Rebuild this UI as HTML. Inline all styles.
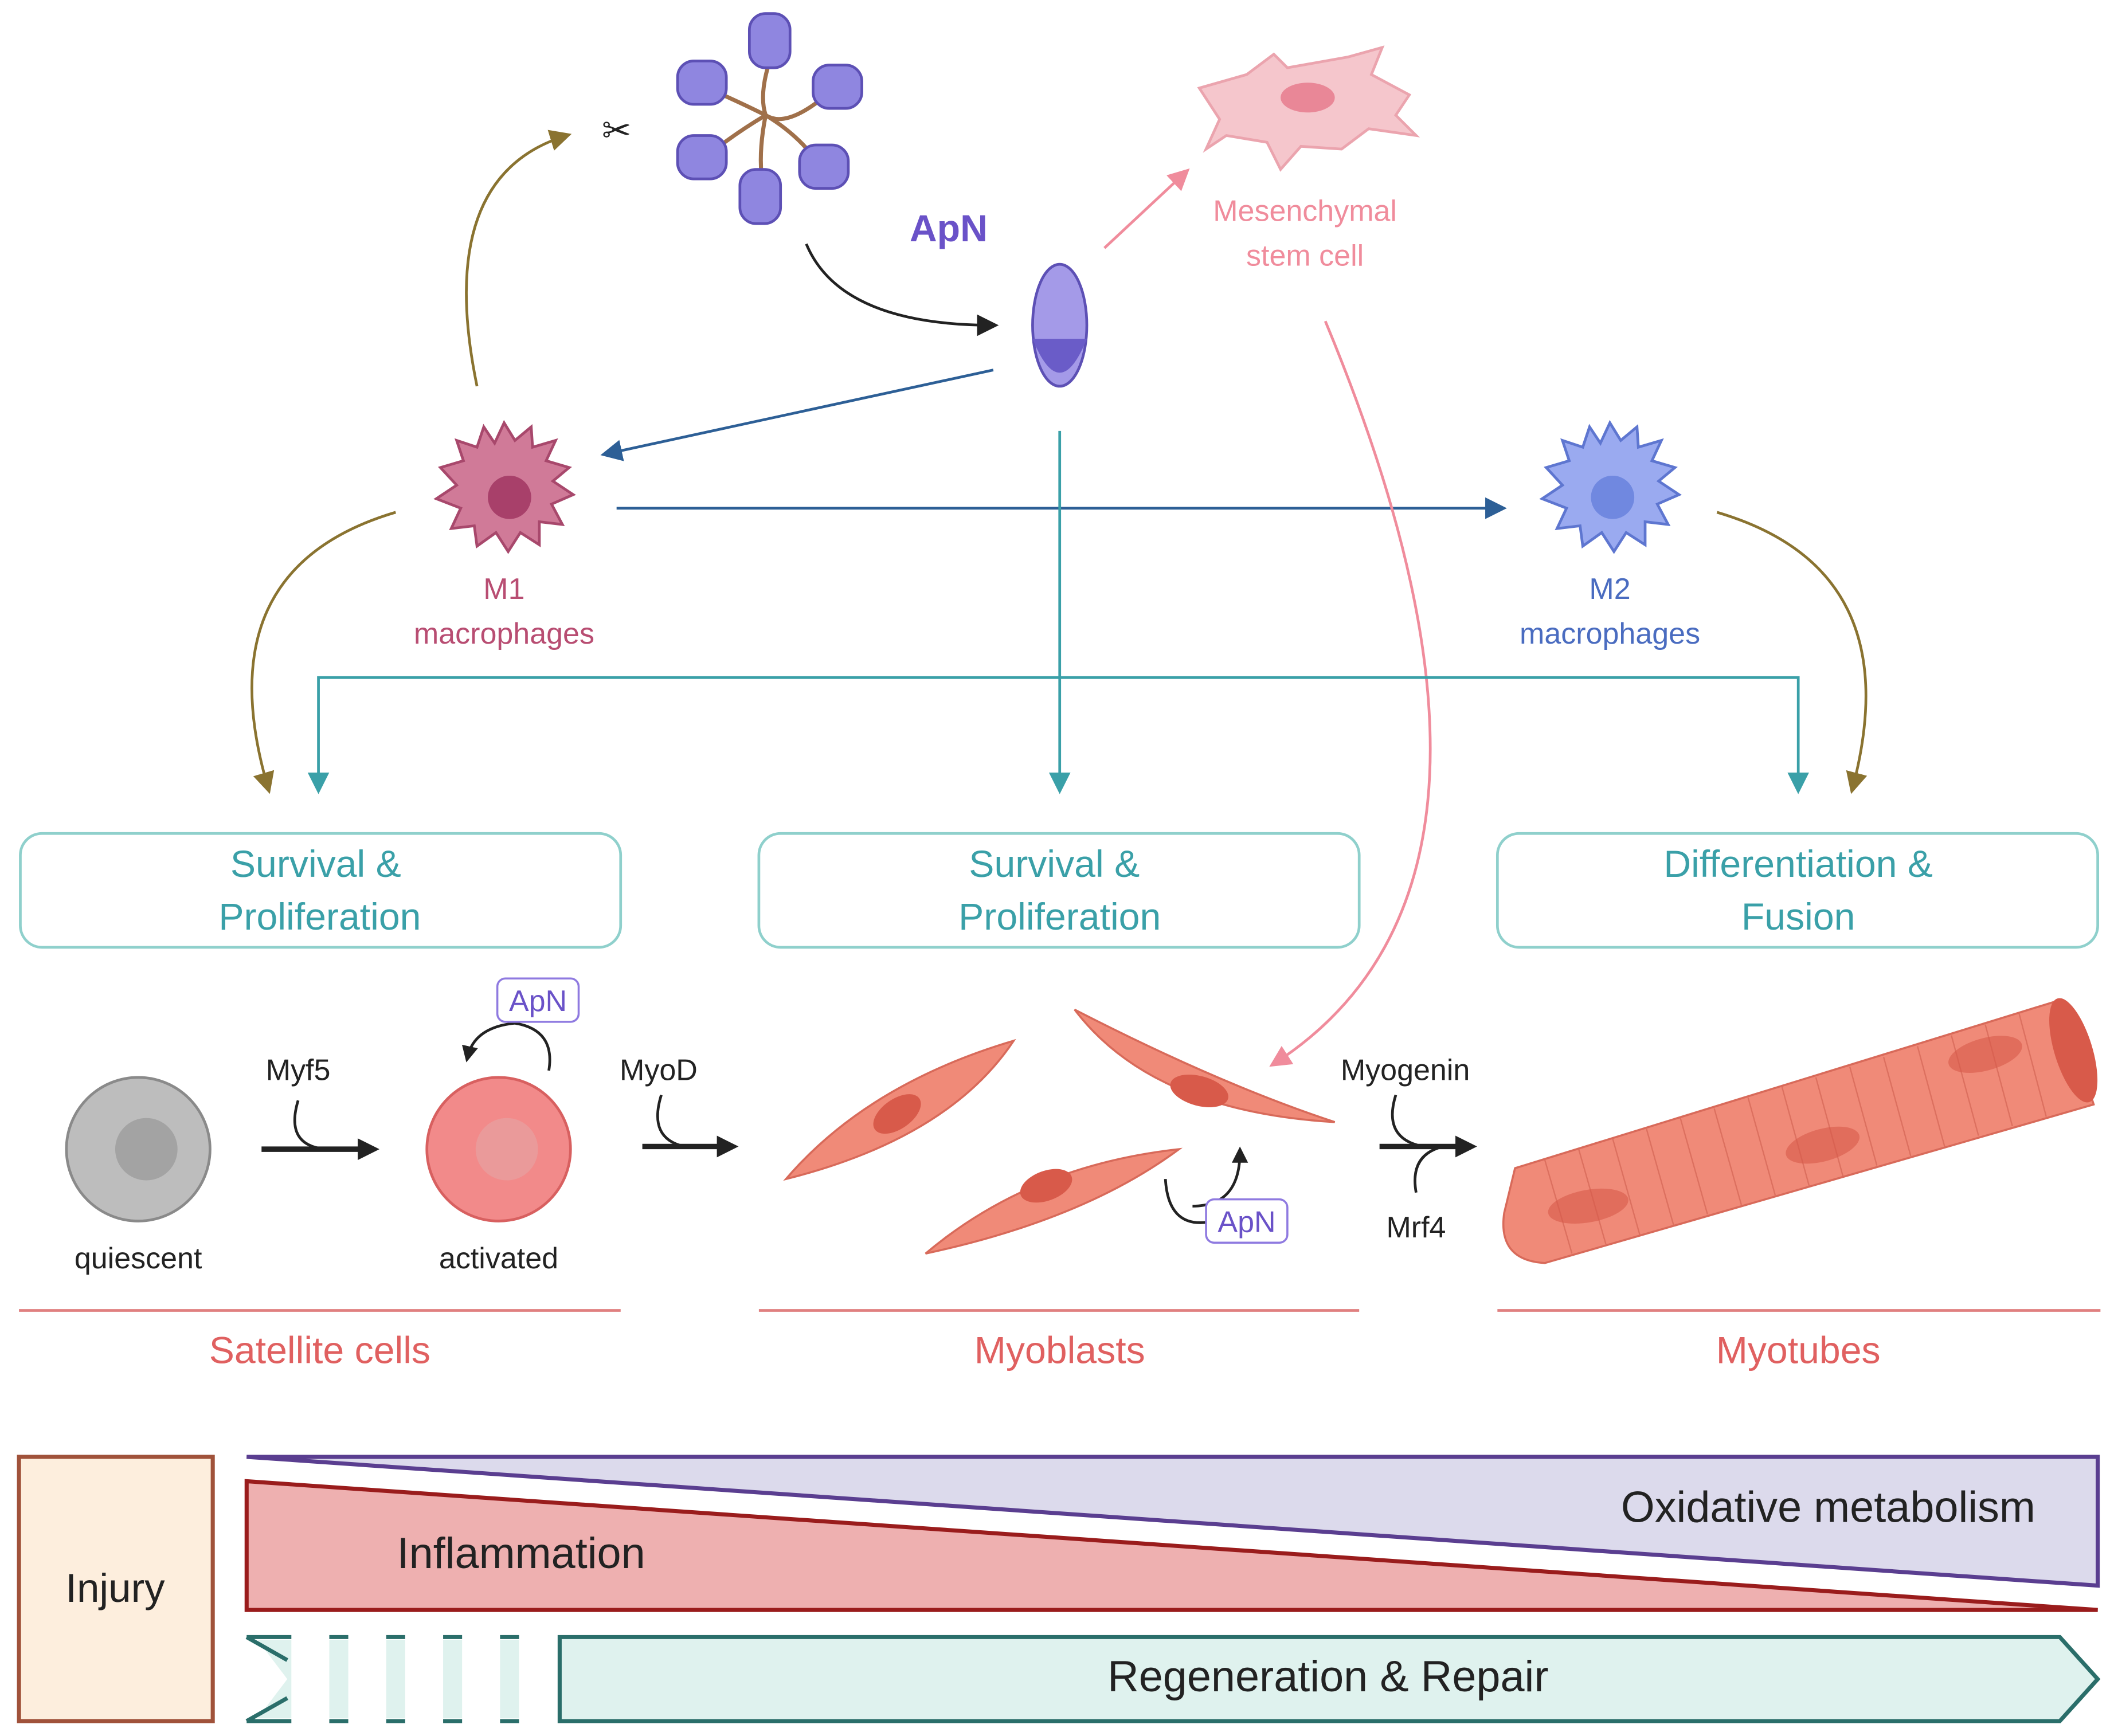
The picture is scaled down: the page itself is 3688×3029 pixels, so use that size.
<!DOCTYPE html>
<html><head><meta charset="utf-8"><style>html,body{margin:0;padding:0;background:#fff}svg{display:block}</style></head><body>
<svg width="3688" height="3029" viewBox="0 0 1560 1281" preserveAspectRatio="none" xmlns="http://www.w3.org/2000/svg" font-family="Liberation Sans, sans-serif">
<defs>
<marker id="ab" markerWidth="8" markerHeight="8" refX="6" refY="4" orient="auto" markerUnits="userSpaceOnUse" viewBox="0 0 8 8"><path d="M0,0 L8,4 L0,8 Z" fill="#222"/></marker>
<marker id="abk" markerWidth="16" markerHeight="16" refX="12" refY="8" orient="auto" markerUnits="userSpaceOnUse"><path d="M0,0 L16,8 L0,16 Z" fill="#222"/></marker>
<marker id="ao" markerWidth="16" markerHeight="16" refX="12" refY="8" orient="auto" markerUnits="userSpaceOnUse"><path d="M0,0 L16,8 L0,16 Z" fill="#8a7330"/></marker>
<marker id="abl" markerWidth="16" markerHeight="16" refX="12" refY="8" orient="auto" markerUnits="userSpaceOnUse"><path d="M0,0 L16,8 L0,16 Z" fill="#2d5f96"/></marker>
<marker id="at" markerWidth="16" markerHeight="16" refX="12" refY="8" orient="auto" markerUnits="userSpaceOnUse"><path d="M0,0 L16,8 L0,16 Z" fill="#3aa0a8"/></marker>
<marker id="ap" markerWidth="16" markerHeight="16" refX="12" refY="8" orient="auto" markerUnits="userSpaceOnUse"><path d="M0,0 L16,8 L0,16 Z" fill="#f08c9c"/></marker>
<marker id="as" markerWidth="12" markerHeight="12" refX="8" refY="6" orient="auto" markerUnits="userSpaceOnUse"><path d="M0,0 L12,6 L0,12 Z" fill="#222"/></marker>
</defs>

<!-- ApN hexamer -->
<g stroke="#a0704a" stroke-width="3" fill="none">
<path d="M568,45 Q560,70 565,85 Q580,95 610,70"/><path d="M565,85 Q590,100 605,122"/><path d="M565,85 Q560,110 562,130"/><path d="M565,85 Q540,100 522,115"/><path d="M565,85 Q545,75 522,65"/>
</g>
<g fill="#8f86e0" stroke="#5d50b5" stroke-width="2">
<rect x="553" y="10" width="30" height="40" rx="12"/>
<rect x="600" y="48" width="36" height="32" rx="12"/>
<rect x="590" y="107" width="36" height="32" rx="12"/>
<rect x="546" y="125" width="30" height="40" rx="12"/>
<rect x="500" y="100" width="36" height="32" rx="12"/>
<rect x="500" y="45" width="36" height="32" rx="12"/>
</g>
<text x="455" y="105" font-size="26" text-anchor="middle" fill="#222">✂</text>
<text x="700" y="178" font-size="28" font-weight="bold" fill="#6a52c8" text-anchor="middle">ApN</text>
<ellipse cx="782" cy="240" rx="20" ry="45" fill="#a49ae8" stroke="#5d50b5" stroke-width="2"/>
<path d="M762,250 Q782,300 802,250 Z" fill="#6a5cc8"/>

<!-- MSC -->
<path d="M885,65 L920,55 L940,40 L950,50 L995,42 L1020,35 L1012,55 L1040,70 L1030,85 L1045,100 L1010,95 L990,110 L960,108 L945,125 L935,105 L905,100 L890,110 L900,88 Z" fill="#f5c6cc" stroke="#eba4ae" stroke-width="2"/>
<ellipse cx="965" cy="72" rx="20" ry="11" fill="#e98797"/>
<text x="963" y="163" font-size="22" fill="#f08c9c" text-anchor="middle">Mesenchymal</text>
<text x="963" y="196" font-size="22" fill="#f08c9c" text-anchor="middle">stem cell</text>

<!-- arrows top -->
<path d="M595,180 Q620,240 733,240" stroke="#222" stroke-width="2" fill="none" marker-end="url(#abk)"/>
<path d="M815,183 L875,127" stroke="#f08c9c" stroke-width="2" fill="none" marker-end="url(#ap)"/>
<path d="M352,285 Q320,130 418,100" stroke="#8a7330" stroke-width="2" fill="none" marker-end="url(#ao)"/>
<path d="M733,273 L447,335" stroke="#2d5f96" stroke-width="2" fill="none" marker-end="url(#abl)"/>
<path d="M455,375 L1108,375" stroke="#2d5f96" stroke-width="2" fill="none" marker-end="url(#abl)"/>
<path d="M978,237 Q1150,650 940,785" stroke="#f08c9c" stroke-width="2" fill="none" marker-end="url(#ap)"/>
<path d="M292,378 Q150,420 198,582" stroke="#8a7330" stroke-width="2" fill="none" marker-end="url(#ao)"/>
<path d="M1267,378 Q1410,420 1367,582" stroke="#8a7330" stroke-width="2" fill="none" marker-end="url(#ao)"/>
<path d="M782,318 L782,582" stroke="#3aa0a8" stroke-width="2" fill="none" marker-end="url(#at)"/>
<path d="M235,582 L235,500 L1327,500 L1327,582" stroke="#3aa0a8" stroke-width="2" fill="none"/>
<path d="M235,570 L235,582" stroke="#3aa0a8" stroke-width="2" marker-end="url(#at)"/>
<path d="M1327,570 L1327,582" stroke="#3aa0a8" stroke-width="2" marker-end="url(#at)"/>

<!-- macrophages -->
<g>
<polygon points="372,312 380,325 392,315 393,330 410,325 403,340 420,345 408,355 423,365 407,372 415,387 398,385 398,402 384,393 375,407 366,393 352,403 350,388 333,390 340,375 322,368 337,358 325,345 342,340 337,325 352,330 357,315 365,327" fill="#d07a98" stroke="#a8486c" stroke-width="2"/>
<circle cx="376" cy="367" r="16" fill="#a8406a"/>
</g>
<text x="372" y="442" font-size="22" fill="#b84d72" text-anchor="middle">M1</text>
<text x="372" y="475" font-size="22" fill="#b84d72" text-anchor="middle">macrophages</text>
<g>
<polygon points="1188,312 1196,325 1208,315 1209,330 1226,325 1219,340 1236,345 1224,355 1239,365 1223,372 1231,387 1214,385 1214,402 1200,393 1191,407 1182,393 1168,403 1166,388 1149,390 1156,375 1138,368 1153,358 1141,345 1158,340 1153,325 1168,330 1173,315 1181,327" fill="#9aaaf0" stroke="#5e76d0" stroke-width="2"/>
<circle cx="1190" cy="367" r="16" fill="#7088e0"/>
</g>
<text x="1188" y="442" font-size="22" fill="#4a6cc0" text-anchor="middle">M2</text>
<text x="1188" y="475" font-size="22" fill="#4a6cc0" text-anchor="middle">macrophages</text>

<!-- boxes -->
<g fill="#fff" stroke="#8fd0cc" stroke-width="2">
<rect x="15" y="615" width="443" height="84" rx="16"/>
<rect x="560" y="615" width="443" height="84" rx="16"/>
<rect x="1105" y="615" width="443" height="84" rx="16"/>
</g>
<g font-size="28" fill="#3aa0a8" text-anchor="middle">
<text x="233" y="647">Survival &amp;</text><text x="236" y="686">Proliferation</text>
<text x="778" y="647">Survival &amp;</text><text x="782" y="686">Proliferation</text>
<text x="1327" y="647">Differentiation &amp;</text><text x="1327" y="686">Fusion</text>
</g>

<!-- satellite cells -->
<circle cx="102" cy="848" r="53" fill="#bdbdbd" stroke="#8a8a8a" stroke-width="2"/>
<circle cx="108" cy="848" r="23" fill="#a3a3a3"/>
<circle cx="368" cy="848" r="53" fill="#f28a8a" stroke="#d86060" stroke-width="2"/>
<circle cx="374" cy="848" r="23" fill="#ea9a9a"/>
<text x="102" y="936" font-size="22" fill="#222" text-anchor="middle">quiescent</text>
<text x="368" y="936" font-size="22" fill="#222" text-anchor="middle">activated</text>
<text x="220" y="797" font-size="22" fill="#222" text-anchor="middle">Myf5</text>
<text x="486" y="797" font-size="22" fill="#222" text-anchor="middle">MyoD</text>
<text x="1037" y="797" font-size="22" fill="#222" text-anchor="middle">Myogenin</text>
<text x="1045" y="913" font-size="22" fill="#222" text-anchor="middle">Mrf4</text>
<g stroke="#222" stroke-width="4" fill="none">
<path d="M193,848 L276,848" marker-end="url(#abk)"/>
<path d="M474,846 L541,846" marker-end="url(#abk)"/>
<path d="M1018,846 L1086,846" marker-end="url(#abk)"/>
</g>
<g stroke="#222" stroke-width="2" fill="none">
<path d="M220,812 Q210,845 240,848"/>
<path d="M488,808 Q478,840 505,846"/>
<path d="M1030,808 Q1020,840 1050,846"/>
<path d="M1045,880 Q1040,852 1065,846"/>
<path d="M405,790 Q410,760 380,755 Q350,758 345,780" marker-end="url(#as)"/>
<path d="M860,870 Q862,905 890,902"/>
<path d="M890,902 L890,902"/>
<path d="M880,890 Q915,890 915,850" marker-end="url(#as)"/>
</g>
<rect x="367" y="722" width="60" height="32" rx="6" fill="#fff" stroke="#8f7ae0" stroke-width="1.5"/>
<text x="397" y="746" font-size="22" fill="#6a52c8" text-anchor="middle">ApN</text>
<rect x="890" y="885" width="60" height="32" rx="6" fill="#fff" stroke="#8f7ae0" stroke-width="1.5"/>
<text x="920" y="909" font-size="22" fill="#6a52c8" text-anchor="middle">ApN</text>

<!-- myoblasts -->
<g fill="#f08a78" stroke="#d86a5a" stroke-width="1.5">
<path d="M580,870 Q640,800 748,768 Q700,840 580,870 Z"/>
<path d="M683,925 Q760,860 870,848 Q800,900 683,925 Z"/>
<path d="M793,745 Q850,820 985,828 Q900,800 793,745 Z"/>
</g>
<g fill="#d85a4a">
<ellipse cx="662" cy="822" rx="20" ry="11" transform="rotate(-35 662 822)"/>
<ellipse cx="772" cy="875" rx="20" ry="11" transform="rotate(-20 772 875)"/>
<ellipse cx="885" cy="805" rx="22" ry="11" transform="rotate(15 885 805)"/>
</g>

<!-- myotube -->
<path d="M1118,862 L1520,738 L1545,815 L1140,932 Q1105,930 1110,895 Z" fill="#f08a78" stroke="#d86a5a" stroke-width="1.5"/>
<ellipse cx="1530" cy="775" rx="14" ry="40" transform="rotate(-17 1530 775)" fill="#d85a4a"/>
<g stroke="#d86a5a" stroke-width="1" opacity="0.8">
<path d="M1140,856 L1160,925"/><path d="M1165,848 L1185,918"/><path d="M1190,840 L1210,911"/><path d="M1215,833 L1235,904"/><path d="M1240,825 L1260,896"/><path d="M1265,818 L1285,889"/><path d="M1290,810 L1310,882"/><path d="M1315,802 L1335,875"/><path d="M1340,795 L1360,868"/><path d="M1365,787 L1385,860"/><path d="M1390,780 L1410,853"/><path d="M1415,772 L1435,846"/><path d="M1440,764 L1460,838"/><path d="M1465,756 L1485,831"/><path d="M1490,748 L1510,824"/>
</g>
<g fill="#d85a4a" opacity="0.6">
<ellipse cx="1172" cy="890" rx="30" ry="12" transform="rotate(-10 1172 890)"/>
<ellipse cx="1345" cy="845" rx="28" ry="12" transform="rotate(-15 1345 845)"/>
<ellipse cx="1465" cy="778" rx="28" ry="12" transform="rotate(-15 1465 778)"/>
</g>

<!-- section lines -->
<g stroke="#e08080" stroke-width="2">
<path d="M14,967 L458,967"/><path d="M560,967 L1003,967"/><path d="M1105,967 L1550,967"/>
</g>
<g font-size="28" fill="#e06060" text-anchor="middle">
<text x="236" y="1006">Satellite cells</text><text x="782" y="1006">Myoblasts</text><text x="1327" y="1006">Myotubes</text>
</g>

<!-- bottom -->
<rect x="14" y="1075" width="143" height="195" fill="#fdeedd" stroke="#a0523a" stroke-width="3"/>
<text x="85" y="1182" font-size="30" fill="#222" text-anchor="middle">Injury</text>
<polygon points="182,1075 1548,1075 1548,1170" fill="#dcdaec" stroke="#5a3e90" stroke-width="3"/>
<polygon points="182,1093 1548,1188 182,1188" fill="#eeb0b0" stroke="#9a1c1c" stroke-width="3"/>
<text x="1502" y="1123" font-size="32" fill="#222" text-anchor="end">Oxidative metabolism</text>
<text x="293" y="1157" font-size="32" fill="#222">Inflammation</text>
<polygon points="413,1208 1520,1208 1548,1239 1520,1270 413,1270" fill="#dff2ee" stroke="#2a6e6a" stroke-width="3"/>
<g fill="#dff2ee">
<rect x="243" y="1210" width="14" height="58"/><rect x="285" y="1210" width="14" height="58"/><rect x="327" y="1210" width="14" height="58"/><rect x="369" y="1210" width="14" height="58"/>
<polygon points="190,1210 215,1210 215,1268 190,1268 212,1239"/>
</g>
<g stroke="#2a6e6a" stroke-width="3" fill="none">
<path d="M182,1208 L215,1208 M243,1208 L257,1208 M285,1208 L299,1208 M327,1208 L341,1208 M369,1208 L383,1208"/>
<path d="M182,1270 L215,1270 M243,1270 L257,1270 M285,1270 L299,1270 M327,1270 L341,1270 M369,1270 L383,1270"/>
<path d="M182,1208 L212,1225 M182,1270 L212,1253"/>
</g>
<text x="980" y="1248" font-size="32" fill="#222" text-anchor="middle">Regeneration &amp; Repair</text>
</svg>
</body></html>
